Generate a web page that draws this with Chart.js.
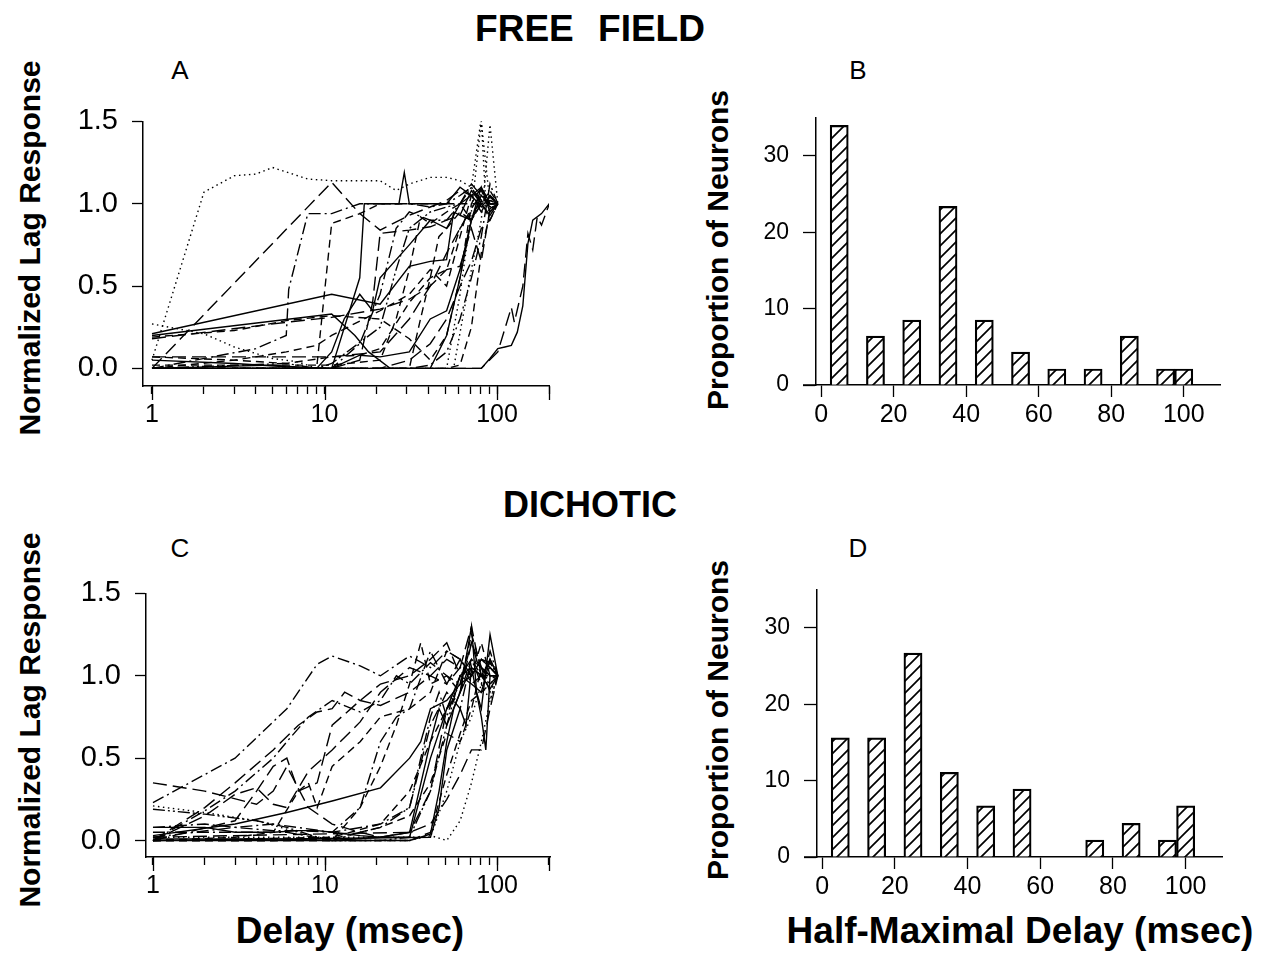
<!DOCTYPE html>
<html>
<head>
<meta charset="utf-8">
<script src="https://cdn.jsdelivr.net/npm/chart.js@4.4.1/dist/chart.umd.min.js"></script>
<style>
  body { margin: 0; background: #fff; width: 1269px; height: 977px; position: relative; overflow: hidden;
         font-family: "Liberation Sans", Arial, Helvetica, sans-serif; color: #000; }
  canvas { position: absolute; }
  .t { position: absolute; white-space: nowrap; transform: translate(-50%, -50%); line-height: 1; }
  .b { font-weight: bold; }
  .v { transform: translate(-50%, -50%) rotate(-90deg); }
</style>
</head>
<body>
<div class="t b" style="left:590px;top:28px;font-size:37px;word-spacing:14px;">FREE FIELD</div>
<div class="t b" style="left:590px;top:505px;font-size:36px;">DICHOTIC</div>
<div class="t" style="left:180px;top:70px;font-size:26px;">A</div>
<div class="t" style="left:858px;top:70px;font-size:26px;">B</div>
<div class="t" style="left:180px;top:548px;font-size:26px;">C</div>
<div class="t" style="left:858px;top:548px;font-size:26px;">D</div>
<div class="t b v" style="left:30px;top:248px;font-size:30px;">Normalized Lag Response</div>
<div class="t b v" style="left:30px;top:720px;font-size:30px;">Normalized Lag Response</div>
<div class="t b v" style="left:718px;top:250px;font-size:30px;">Proportion of Neurons</div>
<div class="t b v" style="left:718px;top:720px;font-size:30px;">Proportion of Neurons</div>
<div class="t b" style="left:350px;top:930px;font-size:37px;">Delay (msec)</div>
<div class="t b" style="left:1020px;top:930px;font-size:37px;">Half-Maximal Delay (msec)</div>

<canvas id="chartA" width="570" height="350" style="left:0px;top:90px;"></canvas>
<canvas id="chartB" width="620" height="350" style="left:640px;top:90px;"></canvas>
<canvas id="chartC" width="570" height="350" style="left:0px;top:562px;"></canvas>
<canvas id="chartD" width="620" height="350" style="left:640px;top:562px;"></canvas>

<script>
// tick values
const logTickValues = [1, 2, 3, 4, 5, 6, 7, 8, 9, 10, 20, 30, 40, 50, 60, 70, 80, 90, 100, 200];
const logMajorTicks = [1, 10, 100, 200];
const logTickLabels = [1, 10, 100];
const responseTicks = [0, 0.5, 1.0, 1.5];
const proportionTicks = [0, 10, 20, 30];
const delayTicks = [0, 20, 40, 60, 80, 100];

// histogram bins (half-maximal delay, msec) and proportion of neurons (%)
const binCenters = [5, 15, 25, 35, 45, 55, 65, 75, 85, 95, 100];
const freeFieldProportions = [34.0, 6.4, 8.5, 23.4, 8.5, 4.3, 2.1, 2.1, 6.4, 2.1, 2.1];
const dichoticProportions = [15.6, 15.6, 26.7, 11.1, 6.7, 8.9, 0, 2.2, 4.4, 2.2, 6.7];

// lag response curves: [delay (msec), normalized response] per neuron
const freeFieldCurves = [
  [[1,0.05],[2,1.07],[3,1.17],[4,1.18],[5,1.22],[8,1.15],[11,1.14],[21,1.14],[26,1.08],[31,1.12],[41,1.16],[51,1.16],[61,1.14],[71,1.1],[81,1.52],[86,1.0],[101,1.0]],
  [[1,0.27],[2,0.21],[3,0.13],[5,0.06],[7,0.04],[9,0.0],[51,0.0],[61,0.45],[71,0.95],[81,1.5],[91,1.0],[101,1.0]],
  [[1,0.0],[41,0.0],[56,0.0],[71,0.6],[81,0.9],[91,1.48],[101,1.0]],
  [[1,0.0],[11,1.13],[16,0.94],[21,0.84],[31,0.93],[41,0.98],[51,1.02],[61,1.08],[71,1.05],[81,0.95],[91,1.05],[101,1.0]],
  [[1,0.0],[4,0.12],[6,0.2],[6.2,0.48],[8,0.94],[11,0.94],[16,1.0],[21,1.0],[31,1.0],[41,0.98],[51,1.0],[61,1.05],[71,1.1],[81,1.02],[91,0.95],[101,1.0]],
  [[1,0.0],[9,0.0],[11,0.88],[16,0.94],[21,1.0],[31,1.0],[41,1.0],[51,1.0],[61,1.0],[71,1.0],[81,1.0],[91,1.0],[101,1.0]],
  [[1,0.0],[11,0.0],[16,0.55],[17,1.0],[27,1.0],[29,1.19],[31,1.0],[51,1.0],[61,1.1],[71,1.05],[81,0.98],[91,1.04],[101,1.0]],
  [[1,0.21],[11,0.45],[21,0.39],[31,0.62],[41,0.65],[51,0.66],[56,0.95],[61,0.93],[71,1.08],[81,1.0],[91,0.93],[101,1.0]],
  [[1,0.07],[11,0.07],[21,0.1],[31,0.3],[41,0.5],[51,0.7],[61,0.85],[71,0.97],[81,1.06],[91,0.98],[101,1.0]],
  [[1,0.18],[6,0.28],[11,0.31],[21,0.36],[31,0.42],[41,0.5],[51,0.6],[61,0.62],[71,0.85],[81,0.65],[91,0.97],[101,1.0]],
  [[1,0.19],[3,0.23],[6,0.29],[11,0.32],[21,0.3],[31,0.18],[41,0.05],[51,0.2],[61,0.55],[71,1.0],[81,1.1],[91,1.0],[101,1.0]],
  [[1,0.2],[11,0.33],[15,0.2],[18,0.1],[24,0.0],[41,0.0],[51,0.2],[61,0.55],[71,0.9],[81,1.05],[91,1.0],[101,1.0]],
  [[1,0.0],[5,0.02],[9,0.0],[11,0.1],[13,0.3],[16,0.45],[19,0.35],[21,0.55],[31,0.75],[41,0.9],[51,0.85],[61,1.0],[71,1.05],[81,1.1],[91,1.0],[101,1.0]],
  [[1,0.0],[11,0.0],[16,0.15],[21,0.45],[26,0.85],[31,0.95],[41,0.9],[51,0.9],[61,1.0],[71,1.12],[81,1.05],[91,1.0],[101,1.0]],
  [[1,0.02],[11,0.02],[21,0.05],[26,0.3],[31,0.6],[36,0.92],[41,0.88],[51,0.95],[61,1.0],[71,0.9],[81,1.0],[91,1.08],[101,1.0]],
  [[1,0.0],[21,0.0],[31,0.05],[41,0.15],[51,0.3],[61,0.5],[71,0.65],[81,0.85],[91,0.9],[101,1.0]],
  [[1,0.0],[31,0.0],[41,0.02],[51,0.1],[61,0.3],[71,0.55],[81,0.8],[91,1.12],[101,1.0]],
  [[1,0.0],[51,0.0],[61,0.02],[71,0.25],[81,0.7],[91,0.95],[101,1.0]],
  [[1,0.05],[3,0.03],[6,0.01],[11,0.0],[16,0.08],[21,0.07],[31,0.1],[41,0.3],[51,0.35],[61,0.6],[71,0.9],[81,1.1],[91,0.95],[101,1.0]],
  [[1,0.07],[3,0.05],[6,0.03],[11,0.07],[16,0.08],[21,0.12],[31,0.4],[41,0.55],[51,0.6],[61,0.85],[71,0.95],[81,1.0],[91,1.02],[101,1.0]],
  [[1,0.0],[11,0.0],[16,0.05],[19,0.4],[21,0.82],[31,0.84],[41,0.86],[51,0.9],[61,0.93],[71,0.9],[81,1.0],[91,1.02],[101,1.0]],
  [[1,0.0],[6,0.03],[9,0.0],[11,0.03],[21,0.25],[26,0.6],[31,0.85],[41,0.95],[51,0.98],[61,1.0],[71,1.1],[81,1.0],[91,1.05],[101,1.0]],
  [[1,0.0],[31,0.0],[36,0.3],[41,0.55],[46,0.8],[51,0.85],[61,0.95],[71,0.9],[81,1.02],[91,0.9],[101,1.0]],
  [[1,0.0],[3,0.05],[6,0.1],[9,0.14],[11,0.2],[21,0.35],[31,0.45],[41,0.6],[51,0.5],[61,0.8],[71,1.05],[81,1.08],[91,0.97],[101,1.0]],
  [[1,0.0],[81,0.0],[91,0.06],[101,0.12],[111,0.13],[121,0.14],[131,0.22],[141,0.38],[151,0.76],[161,0.9],[181,0.94],[201,1.0]],
  [[1,0.0],[81,0.0],[101,0.1],[121,0.37],[126,0.28],[141,0.5],[151,0.82],[161,0.72],[171,0.92],[181,0.87],[201,1.0]]
];
const freeFieldStyles = ['dot','dot','dot','long','dashdot','dash','solid','solid','long','long','dash','solid','solid',
  'dashdot','dash','long','dashdot','dash','solid','dash','long','dashdotdot','dash','dash','solid','long'];

const dichoticCurves = [
  [[1,0.23],[3,0.5],[6,0.8],[9,1.07],[11,1.12],[16,1.06],[21,1.0],[31,1.12],[41,1.05],[51,1.15],[61,1.1],[71,1.0],[81,1.1],[91,1.05],[101,1.0]],
  [[1,0.35],[2,0.3],[4,0.22],[5,0.3],[6,0.45],[8,0.2],[11,0.1],[16,0.05],[21,0.02],[31,0.05],[41,0.3],[51,0.8],[61,0.9],[71,1.2],[81,1.0],[91,1.1],[101,1.0]],
  [[1,0.21],[2,0.17],[4,0.12],[7,0.05],[11,0.0],[31,0.0],[41,0.03],[51,0.0],[61,0.12],[71,0.35],[81,0.6],[91,0.85],[101,1.0]],
  [[1,0.03],[3,0.1],[6,0.17],[11,0.24],[21,0.32],[31,0.5],[36,0.6],[41,0.8],[51,0.85],[61,0.95],[71,1.0],[81,1.1],[91,1.05],[101,1.0]],
  [[1,0.0],[2,0.2],[3,0.35],[5,0.55],[7,0.7],[9,0.78],[11,0.8],[13,0.9],[16,0.85],[21,0.82],[31,0.9],[41,1.0],[51,1.1],[61,1.05],[71,1.3],[81,1.0],[91,1.08],[101,1.0]],
  [[1,0.0],[2,0.18],[3,0.3],[5,0.5],[6,0.6],[8,0.75],[11,0.85],[16,0.78],[21,0.85],[26,1.0],[31,0.95],[41,1.08],[51,1.0],[61,0.95],[71,1.2],[81,1.05],[91,1.0],[101,1.0]],
  [[1,0.0],[2,0.15],[3,0.28],[4,0.32],[5,0.22],[6,0.2],[8,0.42],[11,0.55],[16,0.72],[21,0.9],[31,1.05],[41,1.0],[51,0.95],[61,1.1],[71,0.95],[81,1.0],[91,1.05],[101,1.0]],
  [[1,0.0],[11,0.0],[16,0.2],[21,0.45],[26,0.7],[31,0.95],[36,1.2],[41,0.95],[51,1.0],[61,0.9],[71,1.1],[81,1.0],[91,1.0],[101,1.0]],
  [[1,0.0],[11,0.02],[21,0.1],[31,0.3],[41,0.6],[51,0.8],[61,0.95],[71,1.25],[81,1.05],[91,1.0],[101,1.0]],
  [[1,0.05],[6,0.05],[11,0.0],[16,0.05],[21,0.08],[31,0.2],[36,0.5],[41,0.75],[46,0.9],[51,0.75],[61,1.0],[71,1.1],[81,0.95],[91,1.15],[101,1.0]],
  [[1,0.0],[31,0.0],[36,0.02],[41,0.04],[46,0.3],[51,0.6],[56,0.8],[61,0.9],[71,1.3],[76,0.9],[81,0.8],[91,1.25],[101,1.0]],
  [[1,0.0],[41,0.02],[46,0.2],[51,0.55],[61,0.8],[66,0.7],[71,1.05],[81,0.75],[86,0.55],[91,1.0],[101,1.0]],
  [[1,0.0],[31,0.0],[41,0.05],[51,0.4],[61,0.65],[71,0.85],[81,0.9],[91,0.95],[101,1.0]],
  [[1,0.02],[41,0.02],[51,0.3],[61,0.6],[71,0.75],[81,0.95],[91,0.85],[101,1.0]],
  [[1,0.02],[31,0.05],[41,0.1],[51,0.25],[61,0.4],[71,0.55],[81,0.55],[91,0.8],[101,1.0]],
  [[1,0.08],[2,0.1],[3,0.08],[5,0.06],[7,0.06],[11,0.05],[21,0.1],[31,0.2],[41,0.7],[51,0.9],[61,0.8],[71,1.1],[81,1.05],[91,0.9],[101,1.0]],
  [[1,0.0],[3,0.02],[5,0.05],[7,0.3],[8,0.35],[9,0.2],[11,0.45],[16,0.6],[21,0.75],[31,0.8],[41,0.9],[51,1.15],[61,1.1],[71,1.0],[81,1.2],[91,1.0],[101,1.0]],
  [[1,0.01],[5,0.01],[11,0.0],[21,0.02],[31,0.05],[41,0.6],[46,0.8],[51,0.7],[61,0.9],[71,1.05],[81,1.0],[91,0.92],[101,1.0]],
  [[1,0.0],[5,0.0],[11,0.01],[21,0.08],[31,0.15],[41,0.35],[51,0.65],[61,0.6],[71,0.8],[81,1.05],[91,1.0],[101,1.0]],
  [[1,0.02],[3,0.08],[5,0.1],[11,0.05],[16,0.2],[21,0.6],[26,0.75],[31,0.8],[41,1.15],[51,0.95],[61,1.05],[71,1.0],[81,1.1],[91,1.08],[101,1.0]],
  [[1,0.0],[3,0.12],[4,0.3],[5,0.45],[6,0.5],[7,0.3],[9,0.35],[11,0.7],[16,0.85],[21,0.95],[31,1.0],[41,1.1],[51,1.2],[61,1.0],[71,1.05],[81,1.0],[91,0.98],[101,1.0]],
  [[1,0.08],[2,0.08],[3,0.05],[5,0.05],[7,0.06],[9,0.06],[11,0.05],[16,0.03],[21,0.02],[31,0.02],[41,0.5],[51,0.8],[61,1.0],[71,0.95],[81,0.9],[91,1.1],[101,1.0]],
  [[1,0.19],[2,0.16],[4,0.12],[6,0.08],[9,0.02],[11,0.0],[21,0.0],[31,0.02],[41,0.3],[51,0.7],[61,1.0],[71,1.05],[81,1.0],[91,0.95],[101,1.0]]
];
const dichoticStyles = ['dashdot','long','dot','solid','long','dashdot','long','dash','dash','dashdot','solid','solid',
  'dash','dot','long','dashdot','dash','solid','dash','dashdot','long','solid','dashdotdot'];

const dashPatterns = {
  solid: [], long: [14, 6], dash: [8, 5], dot: [1.5, 3.5], dashdot: [12, 4, 2, 4], dashdotdot: [12, 3, 2, 3, 2, 3]
};

Chart.defaults.font.family = '"Liberation Sans", Arial, Helvetica, sans-serif';
Chart.defaults.color = '#000';

function hatchPattern() {
  const c = document.createElement('canvas');
  c.width = 12; c.height = 12;
  const g = c.getContext('2d');
  g.fillStyle = '#fff';
  g.fillRect(0, 0, 12, 12);
  g.strokeStyle = '#000';
  g.lineWidth = 1.7;
  g.beginPath();
  g.moveTo(0, 12); g.lineTo(12, 0);
  g.moveTo(-3, 3); g.lineTo(3, -3);
  g.moveTo(9, 15); g.lineTo(15, 9);
  g.stroke();
  return g.createPattern(c, 'repeat');
}

// longer ticks at the decades on the log axis
const majorTicks = {
  id: 'majorTicks',
  afterDraw(chart) {
    const s = chart.scales.x, ctx = chart.ctx;
    ctx.save();
    ctx.strokeStyle = '#000';
    ctx.lineWidth = 1.3;
    logMajorTicks.forEach(v => {
      const px = Math.round(s.getPixelForValue(v)) + 0.5;
      ctx.beginPath();
      ctx.moveTo(px, s.top);
      ctx.lineTo(px, s.top + 14);
      ctx.stroke();
    });
    ctx.restore();
  }
};

// the histogram base line runs a little left of the y axis
const baseExtend = {
  id: 'baseExtend',
  afterDraw(chart) {
    const a = chart.chartArea, ctx = chart.ctx;
    ctx.save();
    ctx.strokeStyle = '#000';
    ctx.lineWidth = 1.5;
    ctx.beginPath();
    ctx.moveTo(a.left - 13, a.bottom);
    ctx.lineTo(a.left, a.bottom);
    ctx.stroke();
    ctx.restore();
  }
};

function lineChart(id, curves, styles, g) {
  const datasets = curves.map((c, i) => ({
    data: c.map(p => ({ x: p[0], y: p[1] })),
    borderColor: '#000',
    borderWidth: 1.4,
    borderDash: dashPatterns[styles[i]],
    pointRadius: 0,
    fill: false,
    tension: 0
  }));
  return new Chart(document.getElementById(id), {
    type: 'line',
    data: { datasets: datasets },
    plugins: [majorTicks],
    options: {
      responsive: false,
      animation: false,
      layout: { padding: { top: g.top, right: g.right, left: 0, bottom: 0 } },
      plugins: { legend: { display: false }, tooltip: { enabled: false } },
      scales: {
        x: {
          type: 'logarithmic',
          min: g.xmin, max: g.xmax,
          afterBuildTicks: s => { s.ticks = logTickValues.map(v => ({ value: v })); },
          afterFit: s => { s.height = g.xh; },
          ticks: {
            autoSkip: false, maxRotation: 0, padding: 6,
            font: { size: 25 },
            callback: v => logTickLabels.includes(v) ? String(v) : ''
          },
          grid: { drawOnChartArea: false, tickLength: 8, tickColor: '#000', tickWidth: 1.3 },
          border: { color: '#000', width: 1.5 }
        },
        y: {
          min: g.ymin, max: 1.5,
          afterBuildTicks: s => { s.ticks = responseTicks.map(v => ({ value: v })); },
          afterFit: s => { s.width = g.yw; },
          ticks: { padding: 14, font: { size: 29 }, callback: v => v.toFixed(1) },
          grid: { drawOnChartArea: false, tickLength: 11, tickColor: '#000', tickWidth: 1.3 },
          border: { color: '#000', width: 1.5 }
        }
      }
    }
  });
}

function barChart(id, values, g) {
  return new Chart(document.getElementById(id), {
    type: 'bar',
    data: {
      datasets: [{
        data: binCenters.map((x, i) => ({ x: x, y: values[i] })),
        backgroundColor: hatchPattern(),
        borderColor: '#000',
        borderWidth: 2.2,
        barPercentage: 1,
        categoryPercentage: 1
      }]
    },
    plugins: [baseExtend],
    options: {
      responsive: false,
      animation: false,
      layout: { padding: { top: g.top, right: g.right, left: 0, bottom: 0 } },
      plugins: { legend: { display: false }, tooltip: { enabled: false } },
      scales: {
        x: {
          type: 'linear',
          offset: false,
          min: -1.4, max: 110,
          afterBuildTicks: s => { s.ticks = delayTicks.map(v => ({ value: v })); },
          afterFit: s => { s.height = g.xh; },
          ticks: { autoSkip: false, maxRotation: 0, padding: 3, font: { size: 25 } },
          grid: { offset: false, drawOnChartArea: false, tickLength: 12, tickColor: '#000', tickWidth: 1.3 },
          border: { color: '#000', width: 1.5 }
        },
        y: {
          min: 0, max: 35,
          afterBuildTicks: s => { s.ticks = proportionTicks.map(v => ({ value: v })); },
          afterFit: s => { s.width = g.yw; },
          ticks: { padding: 14, font: { size: 23 } },
          grid: { drawOnChartArea: false, tickLength: 13, tickColor: '#000', tickWidth: 1.3 },
          border: { color: '#000', width: 1.5 }
        }
      }
    }
  });
}

lineChart('chartA', freeFieldCurves, freeFieldStyles,
  { top: 25, right: 21, yw: 143, xh: 54, xmin: 0.887, xmax: 200, ymin: -0.107 });
barChart('chartB', freeFieldProportions, { top: 25, right: 40, yw: 176, xh: 55 });
lineChart('chartC', dichoticCurves, dichoticStyles,
  { top: 25, right: 20, yw: 146, xh: 55, xmin: 0.911, xmax: 203, ymin: -0.1 });
barChart('chartD', dichoticProportions, { top: 25, right: 38, yw: 177, xh: 55 });
</script>
</body>
</html>
